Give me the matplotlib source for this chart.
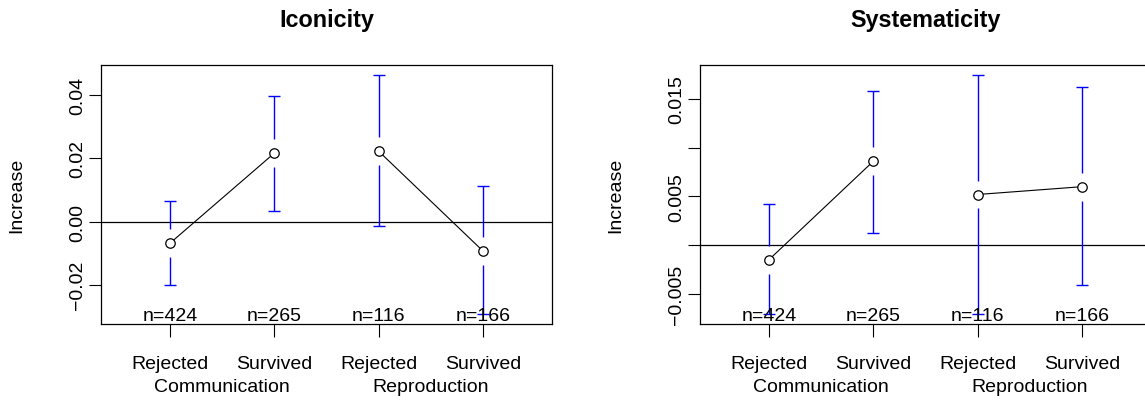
import numpy as np
import matplotlib
matplotlib.use("Agg")
import matplotlib.pyplot as plt

plt.rcParams['font.family'] = ['Liberation Sans', 'DejaVu Sans']

# data
conditions = ["Rejected", "Survived", "Rejected", "Survived"]
groups = ["Communication", "Reproduction"]
n_labels = ["n=424", "n=265", "n=116", "n=166"]

iconicity_mean = [-0.0069, 0.0216, 0.0223, -0.0093]
iconicity_lower = [-0.0202, 0.0034, -0.0015, -0.0294]
iconicity_upper = [0.0065, 0.0397, 0.0465, 0.0112]

systematicity_mean = [-0.0015, 0.0086, 0.0052, 0.0060]
systematicity_lower = [-0.0071, 0.0013, -0.0071, -0.0041]
systematicity_upper = [0.0042, 0.0158, 0.0175, 0.0162]

iconicity_ticks = [-0.02, 0.0, 0.02, 0.04]
iconicity_ticklabels = ["\u22120.02", "0.00", "0.02", "0.04"]
systematicity_ticks = [-0.005, 0.0, 0.005, 0.010, 0.015]
systematicity_ticklabels = ["\u22120.005", "", "0.005", "", "0.015"]


def draw_panel(ax, title, mean, lower, upper, ticks, ticklabels):
    x = np.arange(1, len(mean) + 1)
    mean = np.array(mean)
    lower = np.array(lower)
    upper = np.array(upper)

    # R style limits: data range plus 4% on each side
    ax.set_xlim(0.5 - 0.16, 4.5 + 0.16)
    lo, hi = lower.min(), upper.max()
    r = hi - lo
    ax.set_ylim(lo - 0.04 * r, hi + 0.04 * r)
    gap = 0.054 * 1.08 * r
    cap = 0.0575

    ax.axhline(0, color="black", lw=0.9, zorder=1)

    # error bars with a gap around the point
    for xi, m, l, u in zip(x, mean, lower, upper):
        if u > m + gap:
            ax.vlines(xi, m + gap, u, color="blue", lw=1.0, zorder=2)
        if l < m - gap:
            ax.vlines(xi, l, m - gap, color="blue", lw=1.0, zorder=2)
        ax.hlines([l, u], xi - cap, xi + cap, color="blue", lw=1.0, zorder=2)

    ax.plot(x[:2], mean[:2], color="black", lw=0.8, zorder=3)
    ax.plot(x[2:], mean[2:], color="black", lw=0.8, zorder=3)
    ax.plot(x, mean, "o", ms=6.8, mfc="white", mec="black", mew=0.9, zorder=4)

    trans = ax.get_xaxis_transform()
    for xi, lab in zip(x, n_labels):
        ax.text(xi, 0.016, lab, transform=trans, ha="center", va="baseline", fontsize=14)
    for k, g in enumerate(groups):
        ax.text(x[2 * k] + 0.5, -0.2575, g, transform=trans, ha="center",
                va="baseline", fontsize=14)

    ax.set_xticks(x)
    ax.set_xticklabels(conditions)
    ax.set_yticks(ticks)
    ax.set_yticklabels(ticklabels, rotation=90, va="center")
    ax.tick_params(axis="both", length=9, width=0.8, labelsize=14)
    ax.tick_params(axis="x", pad=13)
    ax.tick_params(axis="y", pad=1.5)

    for s in ax.spines.values():
        s.set_linewidth(0.9)

    ax.set_title(title, fontsize=16.8, fontweight="bold", pad=28)
    ax.set_ylabel("Increase", fontsize=14)
    ax.yaxis.set_label_coords(-0.186, 0.5)
    ax.yaxis.label.set_va("center")


fig = plt.figure(figsize=(11.45, 4.02), dpi=100)
ax1 = fig.add_axes([0.08821, 0.19154, 0.39362, 0.64428])
ax2 = fig.add_axes([0.61135, 0.19154, 0.39362, 0.64428])

draw_panel(ax1, "Iconicity", iconicity_mean, iconicity_lower, iconicity_upper,
           iconicity_ticks, iconicity_ticklabels)
draw_panel(ax2, "Systematicity", systematicity_mean, systematicity_lower,
           systematicity_upper, systematicity_ticks, systematicity_ticklabels)

fig.savefig("out.png", dpi=100)
